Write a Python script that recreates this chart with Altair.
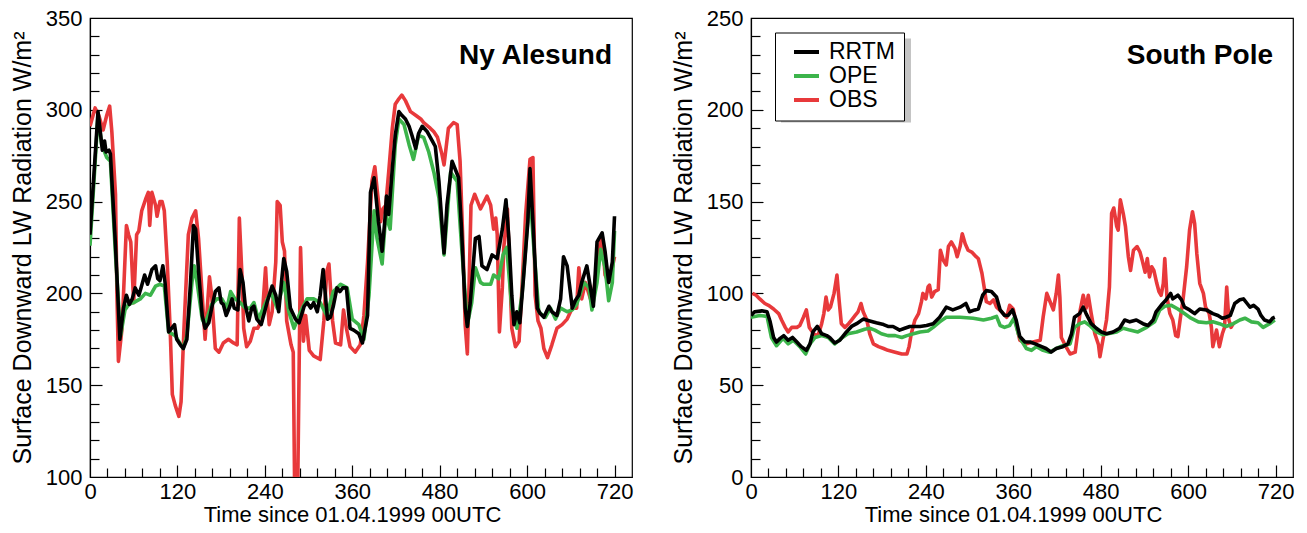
import altair as alt
import pandas as pd

# ---------------- data ----------------
XLABELS = [0, 120, 240, 360, 480, 600, 720]
XMINOR = [t for t in range(24, 744, 24) if t % 120 != 0]
XMAJOR = [120, 240, 360, 480, 600, 720]

# Ny Alesund
NA_RRTM_T = [0, 11, 17, 20, 22, 26, 28, 35, 41, 46, 50, 54, 58, 62, 67, 70, 75, 79, 85, 90, 93, 96, 100, 103, 108, 112, 116, 119, 124, 128, 133, 138, 142, 145, 149, 154, 158, 163, 167, 172, 177, 180, 183, 187, 192, 195, 198, 203, 206, 210, 213, 218, 222, 225, 229, 235, 239, 243, 250, 255, 259, 266, 270, 275, 282, 287, 294, 298, 303, 307, 312, 316, 320, 326, 330, 334, 339, 343, 347, 352, 357, 362, 369, 374, 381, 385, 390, 396, 401, 405, 407, 410, 415, 419, 424, 428, 433, 438, 442, 447, 451, 456, 463, 470, 474, 479, 486, 490, 497, 506, 510, 515, 518, 522, 529, 534, 538, 545, 552, 559, 566, 571, 575, 579, 582, 586, 590, 595, 601, 604, 608, 614, 618, 623, 630, 634, 641, 646, 650, 655, 662, 666, 671, 675, 682, 687, 691, 696, 703, 707, 712, 717, 720]
NA_RRTM_V = [232, 299, 278, 283, 277, 278, 276, 226, 175, 192, 199, 194, 197, 203, 199, 203, 210, 205, 213, 215, 208, 207, 215, 206, 179, 181, 183, 175, 172, 170, 175, 206, 237, 235, 212, 188, 181, 184, 192, 201, 203, 195, 194, 188, 193, 197, 192, 191, 213, 206, 194, 185, 192, 193, 186, 183, 189, 195, 204, 199, 190, 219, 212, 192, 186, 184, 193, 195, 192, 195, 190, 199, 213, 186, 187, 193, 203, 201, 203, 203, 181, 180, 178, 173, 188, 255, 263, 239, 223, 241, 253, 243, 268, 286, 299, 297, 295, 291, 286, 279, 287, 291, 288, 283, 280, 261, 222, 248, 272, 263, 235, 192, 182, 195, 230, 231, 215, 213, 221, 219, 235, 251, 230, 199, 183, 190, 184, 208, 239, 268, 239, 192, 189, 187, 193, 190, 188, 197, 220, 215, 192, 196, 199, 206, 215, 203, 193, 228, 233, 223, 206, 217, 242]

NA_OPE_T = [0, 11, 16, 23, 28, 35, 42, 48, 53, 60, 69, 76, 83, 90, 96, 102, 108, 117, 128, 133, 140, 143, 147, 154, 158, 167, 174, 181, 188, 193, 199, 206, 213, 220, 225, 231, 238, 248, 257, 266, 273, 280, 289, 298, 307, 316, 325, 334, 344, 353, 360, 369, 376, 383, 390, 394, 401, 406, 412, 419, 424, 431, 438, 444, 451, 458, 465, 472, 479, 486, 495, 504, 510, 518, 524, 529, 536, 540, 550, 554, 561, 567, 572, 579, 586, 593, 600, 604, 609, 616, 625, 632, 639, 646, 655, 662, 668, 678, 685, 689, 696, 701, 707, 712, 717, 720]
NA_OPE_V = [226, 297, 281, 274, 272, 221, 177, 191, 194, 195, 197, 200, 199, 204, 205, 204, 179, 177, 170, 177, 206, 215, 206, 186, 183, 194, 197, 197, 192, 201, 197, 195, 192, 192, 195, 186, 192, 201, 192, 206, 190, 181, 190, 197, 197, 195, 188, 201, 205, 203, 186, 183, 175, 199, 245, 230, 216, 243, 235, 281, 295, 292, 281, 273, 286, 285, 277, 266, 252, 221, 266, 261, 226, 183, 195, 214, 206, 205, 205, 210, 208, 221, 225, 192, 181, 199, 235, 255, 226, 190, 187, 192, 186, 192, 190, 191, 194, 206, 203, 191, 206, 224, 214, 196, 206, 234]

NA_OBS_T = [0, 7, 12, 18, 23, 27, 30, 35, 37, 39, 44, 50, 53, 56, 60, 64, 67, 71, 77, 80, 82, 85, 90, 92, 96, 99, 102, 106, 110, 113, 117, 122, 125, 129, 135, 140, 145, 149, 154, 158, 161, 164, 167, 172, 177, 183, 190, 197, 202, 205, 209, 211, 215, 220, 225, 230, 236, 241, 243, 246, 250, 255, 257, 261, 264, 267, 270, 276, 279, 281, 285, 289, 293, 296, 301, 307, 316, 321, 325, 328, 333, 337, 344, 348, 352, 357, 364, 371, 376, 381, 387, 391, 394, 399, 402, 406, 410, 415, 419, 424, 428, 433, 440, 447, 454, 458, 467, 472, 477, 483, 486, 492, 499, 504, 508, 512, 515, 518, 520, 523, 528, 536, 545, 550, 554, 557, 559, 562, 566, 568, 573, 576, 579, 584, 589, 593, 598, 604, 608, 611, 615, 619, 623, 628, 634, 641, 648, 655, 662, 668, 671, 675, 680, 687, 691, 698, 703, 707, 712, 717, 720]
NA_OBS_V = [291, 301, 297, 289, 297, 302, 288, 254, 199, 163, 181, 237, 232, 228, 195, 232, 234, 245, 252, 255, 237, 255, 248, 242, 250, 250, 245, 217, 181, 145, 139, 133, 141, 181, 232, 241, 245, 230, 199, 175, 192, 209, 199, 170, 168, 173, 175, 173, 172, 241, 206, 181, 171, 174, 181, 181, 185, 214, 199, 183, 190, 217, 250, 248, 228, 223, 185, 172, 168, 90, 90, 225, 174, 188, 169, 166, 164, 185, 212, 216, 185, 173, 172, 191, 181, 171, 168, 172, 188, 217, 261, 269, 257, 239, 246, 248, 266, 290, 303, 306, 308, 305, 299, 297, 295, 293, 290, 288, 285, 276, 270, 290, 293, 292, 272, 226, 183, 167, 199, 248, 254, 246, 253, 248, 235, 241, 232, 179, 203, 225, 246, 214, 181, 171, 174, 203, 243, 273, 274, 199, 185, 181, 170, 165, 172, 181, 183, 186, 192, 192, 214, 197, 206, 197, 199, 223, 232, 210, 206, 214, 220]

# South Pole
SP_RRTM_T = [0, 5, 15, 22, 26, 31, 35, 40, 45, 51, 57, 63, 69, 76, 81, 85, 91, 97, 104, 108, 115, 122, 131, 138, 145, 154, 163, 172, 182, 188, 195, 204, 211, 218, 225, 232, 241, 250, 259, 268, 277, 287, 295, 300, 307, 312, 318, 323, 330, 337, 342, 348, 353, 359, 364, 369, 376, 383, 390, 399, 405, 412, 419, 428, 435, 440, 444, 451, 456, 460, 467, 474, 481, 488, 497, 506, 513, 520, 529, 538, 545, 552, 556, 563, 570, 576, 579, 586, 591, 595, 602, 609, 616, 625, 634, 641, 647, 652, 658, 664, 671, 676, 681, 685, 690, 696, 700, 705, 712, 716, 719]
SP_RRTM_V = [88, 90, 90.5, 90, 85, 76, 73.5, 75.5, 77, 74.5, 76, 73.5, 71, 69, 72.5, 79, 82, 78, 77, 76, 73, 74.5, 79, 82, 83.5, 86, 85, 84, 83, 82, 82, 80, 81, 82, 82, 82, 82.5, 83.5, 87, 92.5, 91, 92.5, 94.5, 90, 91, 91.5, 99, 101.5, 101, 98, 91, 88, 88, 91, 85.5, 76.5, 73.5, 73.5, 72.5, 71, 70, 68, 70, 71, 72.5, 78, 87, 89, 92.5, 89, 83.5, 81, 79, 78, 79, 81, 85.5, 84.5, 85.5, 83.5, 82.5, 85.5, 90, 93.5, 96.5, 100, 97, 99, 96.5, 92.5, 91, 89, 91.5, 91, 89, 88, 86.5, 87, 88, 94.5, 96.5, 97, 94.5, 92.5, 93.5, 91.5, 88, 85.5, 84.5, 86.5, 87]

SP_OPE_T = [0, 12, 22, 28, 35, 44, 51, 58, 67, 75, 81, 88, 97, 106, 115, 124, 133, 145, 156, 163, 170, 179, 188, 198, 207, 214, 223, 232, 243, 250, 259, 268, 287, 305, 319, 330, 337, 342, 348, 355, 361, 367, 371, 378, 385, 392, 401, 410, 419, 428, 438, 444, 451, 458, 465, 474, 483, 490, 502, 511, 520, 531, 543, 554, 561, 568, 577, 586, 595, 604, 614, 625, 634, 643, 652, 662, 671, 678, 687, 696, 703, 712, 719]
SP_OPE_V = [87, 88, 87.5, 76, 71.5, 75.5, 72.5, 74.5, 71, 67, 72.5, 76, 77, 76, 72.5, 75.5, 78, 79, 80.5, 81, 80, 78, 77, 77, 76, 77, 78, 79, 79.5, 81.5, 84.5, 87, 87, 86.5, 85.5, 86.5, 87.5, 82.5, 81.5, 82.5, 86.5, 78, 74.5, 70, 69, 71, 69, 68, 70, 71.5, 72.5, 81.5, 83.5, 84.5, 82.5, 79, 77.5, 78, 79, 81, 80, 79, 81.5, 84.5, 91, 93, 93.5, 91.5, 89, 86.5, 84.5, 84, 84.5, 83.5, 82, 83.5, 85.5, 86.5, 84.5, 84, 81.5, 83.5, 85.5]

SP_OBS_T = [2, 7, 12, 19, 24, 31, 38, 42, 47, 51, 56, 63, 67, 72, 76, 80, 86, 92, 97, 100, 103, 106, 109, 114, 118, 121, 124, 129, 134, 138, 143, 147, 151, 154, 159, 163, 168, 175, 182, 188, 198, 207, 214, 217, 220, 225, 230, 234, 236, 240, 243, 245, 248, 252, 257, 260, 264, 268, 271, 275, 280, 283, 287, 290, 294, 298, 303, 309, 312, 317, 320, 323, 328, 333, 337, 344, 351, 355, 360, 365, 369, 378, 387, 397, 401, 406, 410, 415, 419, 422, 424, 426, 431, 438, 445, 449, 452, 456, 460, 463, 467, 472, 477, 479, 483, 488, 492, 495, 498, 502, 504, 507, 511, 514, 518, 521, 525, 530, 534, 537, 541, 544, 547, 550, 553, 557, 560, 563, 566, 568, 571, 575, 579, 583, 586, 589, 593, 598, 602, 606, 609, 612, 616, 621, 624, 629, 632, 634, 639, 643, 647, 650, 653, 656, 659, 662]
SP_OBS_V = [100, 99, 97, 94.5, 93.5, 91.5, 89, 85.5, 81.5, 79, 81.5, 81.5, 82.5, 87, 91, 81.5, 78, 77, 83.5, 89, 98, 91, 92.5, 100, 110, 96, 83.5, 81.5, 83.5, 85.5, 88, 90, 94.5, 90, 85.5, 78, 72.5, 71, 70, 69, 68, 67, 67, 71, 78, 85.5, 89, 95.5, 100, 97, 103.5, 104.5, 98, 101, 102, 123.5, 118, 115.5, 125.5, 128, 124.5, 120, 125.5, 132.5, 127, 123.5, 122.5, 120, 119, 111, 103.5, 95.5, 94.5, 96.5, 92.5, 90, 87, 93.5, 91.5, 81.5, 74.5, 72.5, 73.5, 74.5, 87, 100, 96, 91, 100, 110, 98, 76, 72, 67, 68, 80, 91, 99, 92, 99, 89, 78, 72, 65.5, 74.5, 85.5, 103.5, 143.5, 146.5, 136.5, 134.5, 151, 143.5, 136.5, 120, 112.5, 123.5, 125.5, 122.5, 118, 111.5, 119, 109, 114.5, 112.5, 105.5, 101, 99, 105.5, 119, 98, 89, 85.5, 77, 76.5, 85.5, 96.5, 114.5, 134.5, 144.5, 138, 121.5, 105.5, 100, 92.5, 89, 81.5, 71, 80, 71, 78, 81.5, 103.5, 85.5, 81.5, 83.5]

SERIES = ["RRTM", "OPE", "OBS"]
COLORS = ["#000000", "#3cb44b", "#e8393b"]

# ---------------- styling ----------------
FONT = "Liberation Sans"
W, H = 542, 459
FS = 22


def make_df(obs, ope, rrtm):
    rows = []
    # drawing order: OBS (bottom), OPE, RRTM (top)
    for name, (ts, vs) in (("OBS", obs), ("OPE", ope), ("RRTM", rrtm)):
        for t, v in zip(ts, vs):
            rows.append({"t": t, "v": v, "series": name})
    return pd.DataFrame(rows)


def panel(df, ydom, ylabels, yminor, ymajor, title, legend, extra_layers=()):
    xscale = alt.Scale(domain=[0, 744], nice=False, zero=False)
    yscale = alt.Scale(domain=ydom, nice=False, zero=False)
    base_axis = dict(labelFont=FONT, labelFontSize=FS, labelColor="black",
                     titleFont=FONT, titleFontWeight="normal",
                     titleColor="black", grid=False, domainColor="black",
                     domainWidth=1.2)
    lines = alt.Chart(df).mark_line(clip=True, strokeWidth=3.6, strokeJoin="round").encode(
        x=alt.X("t:Q", scale=xscale, axis=alt.Axis(
            orient="bottom", values=XLABELS, ticks=False, labelFlush=False,
            labelPadding=4, title="Time since 01.04.1999 00UTC",
            titleFontSize=FS, titlePadding=2, titleX=262, **base_axis)),
        y=alt.Y("v:Q", scale=yscale, axis=alt.Axis(
            orient="left", values=ylabels, ticks=False, labelPadding=8,
            title="Surface Downward LW Radiation W/m²", titleFontSize=25,
            titlePadding=10, **base_axis)),
        color=alt.Color("series:N", scale=alt.Scale(domain=SERIES, range=COLORS),
                        legend=legend),
    )
    tick_common = dict(labels=False, domain=False, grid=False, title=None,
                       tickColor="black", tickWidth=1.2)
    minor = alt.Chart(df).mark_point(opacity=0).encode(
        x=alt.X("t:Q", scale=xscale, axis=alt.Axis(
            orient="top", offset=-H, values=XMINOR, tickSize=9, **tick_common)),
        y=alt.Y("v:Q", scale=yscale, axis=alt.Axis(
            orient="right", offset=-W, values=yminor, tickSize=9, **tick_common)),
    )
    major = alt.Chart(df).mark_point(opacity=0).encode(
        x=alt.X("t:Q", scale=xscale, axis=alt.Axis(
            orient="top", offset=-H, values=XMAJOR, tickSize=12, **tick_common)),
        y=alt.Y("v:Q", scale=yscale, axis=alt.Axis(
            orient="right", offset=-W, values=ymajor, tickSize=12, **tick_common)),
    )
    layers = list(extra_layers) + [lines, minor, major]
    return alt.layer(*layers).resolve_axis(x="independent", y="independent").properties(
        width=W, height=H,
        title=alt.TitleParams(text=title, anchor="end", orient="top", frame="group",
                              offset=-85, dx=-20, fontSize=28, fontWeight="bold",
                              font=FONT, color="black", baseline="alphabetic"),
    )


na_df = make_df((NA_OBS_T, NA_OBS_V), (NA_OPE_T, NA_OPE_V), (NA_RRTM_T, NA_RRTM_V))
sp_df = make_df((SP_OBS_T, SP_OBS_V), (SP_OPE_T, SP_OPE_V), (SP_RRTM_T, SP_RRTM_V))

left = panel(na_df, [100, 350], [100, 150, 200, 250, 300, 350],
             [v for v in range(110, 350, 10) if v % 50 != 0], [150, 200, 250, 300],
             "Ny Alesund", None)

# legend line symbol: a path twice as wide as the unit box keeps the rows compact
legend = alt.Legend(orient="none", legendX=24, legendY=14.5, title=None,
                    fillColor="white", strokeColor="black",
                    padding=8, symbolType="M-2,0H2", symbolSize=156.25,
                    symbolStrokeWidth=4, symbolOffset=12, labelOffset=11,
                    labelFont=FONT, labelFontSize=23, labelColor="black",
                    rowPadding=-1.5)

shadow = alt.Chart(pd.DataFrame({"k": [0]})).mark_rect(color="#c4c4c4").encode(
    x=alt.value(30), x2=alt.value(160), y=alt.value(20.5), y2=alt.value(104.5))

right = panel(sp_df, [0, 250], [0, 50, 100, 150, 200, 250],
              [v for v in range(10, 250, 10) if v % 50 != 0], [50, 100, 150, 200],
              "South Pole", legend, extra_layers=[shadow])

chart = alt.hconcat(left, right, spacing=36).resolve_scale(color="independent").properties(
    padding={"top": 6, "left": 9, "right": 0, "bottom": 0}
).configure_view(stroke="black", strokeWidth=1.2)

chart.save("out.html", embed_options={"renderer": "svg", "actions": False})
